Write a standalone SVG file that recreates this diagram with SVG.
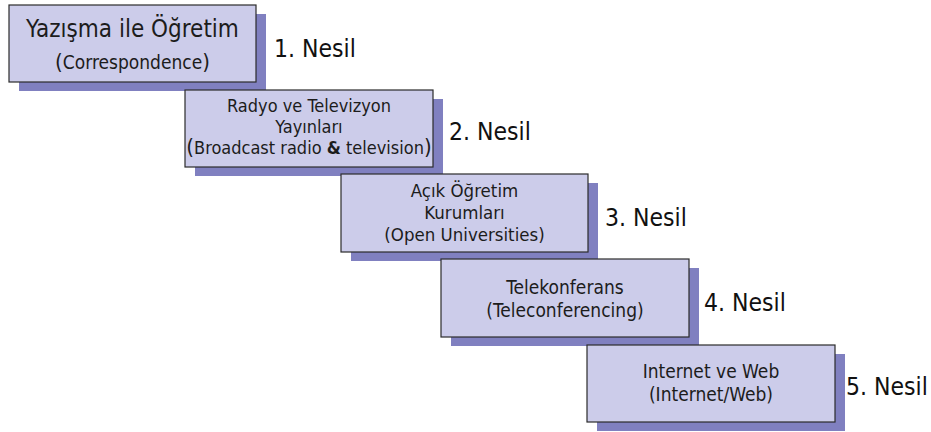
<svg xmlns="http://www.w3.org/2000/svg" width="931" height="432" viewBox="0 0 931 432">
<style>
.bg{fill:#ffffff}
.sh{fill:#8080c0}
.bx{fill:#ccccea;stroke:#2b2b2b;stroke-width:1.2}
.t{font-family:"DejaVu Sans Condensed","DejaVu Sans",sans-serif;font-stretch:condensed;fill:#1c1c1c;text-anchor:middle;font-size:19px}
.s18{font-size:18px}
.s185{font-size:18.5px}
.big{font-size:24px}
.p{font-size:22px}
.amp{font-weight:bold}
.n{font-family:"DejaVu Sans Condensed","DejaVu Sans",sans-serif;font-stretch:condensed;fill:#111;font-size:24.5px}
</style>
<rect class="bg" x="0" y="0" width="931" height="432"/>
<g id="node1">
<rect class="sh" x="19" y="14" width="247" height="77"/>
<rect class="bx" x="9" y="5" width="247" height="77"/>
<text class="t big" x="132.5" y="37">Yazışma ile Öğretim</text>
<text class="t" x="132.5" y="69"><tspan class="p">(</tspan>Correspondence<tspan class="p">)</tspan></text>
</g>
<g id="node2">
<rect class="sh" x="195" y="99" width="248" height="77"/>
<rect class="bx" x="185" y="90" width="248" height="77"/>
<text class="t s18" x="309" y="112">Radyo ve Televizyon</text>
<text class="t s18" x="309" y="133">Yayınları</text>
<text class="t s18" x="309" y="154"><tspan class="p">(</tspan>Broadcast radio <tspan class="amp">&amp;</tspan> television<tspan class="p">)</tspan></text>
</g>
<g id="node3">
<rect class="sh" x="351" y="183" width="247" height="78"/>
<rect class="bx" x="341" y="174" width="247" height="78"/>
<text class="t s185" x="464.5" y="197">Açık Öğretim</text>
<text class="t s185" x="464.5" y="219">Kurumları</text>
<text class="t s185" x="464.5" y="241">(Open Universities)</text>
</g>
<g id="node4">
<rect class="sh" x="451" y="268" width="248" height="78"/>
<rect class="bx" x="441" y="259" width="248" height="78"/>
<text class="t" x="565" y="294">Telekonferans</text>
<text class="t" x="565" y="317">(Teleconferencing)</text>
</g>
<g id="node5">
<rect class="sh" x="597" y="354" width="248" height="77"/>
<rect class="bx" x="587" y="345" width="248" height="77"/>
<text class="t" x="711" y="378">Internet ve Web</text>
<text class="t" x="711" y="401">(Internet/Web)</text>
</g>
<g id="labels">
<text class="n" x="274" y="57">1. Nesil</text>
<text class="n" x="449" y="140">2. Nesil</text>
<text class="n" x="605" y="226">3. Nesil</text>
<text class="n" x="704" y="311">4. Nesil</text>
<text class="n" x="846" y="395">5. Nesil</text>
</g>
<g id="connectors"></g>
</svg>
